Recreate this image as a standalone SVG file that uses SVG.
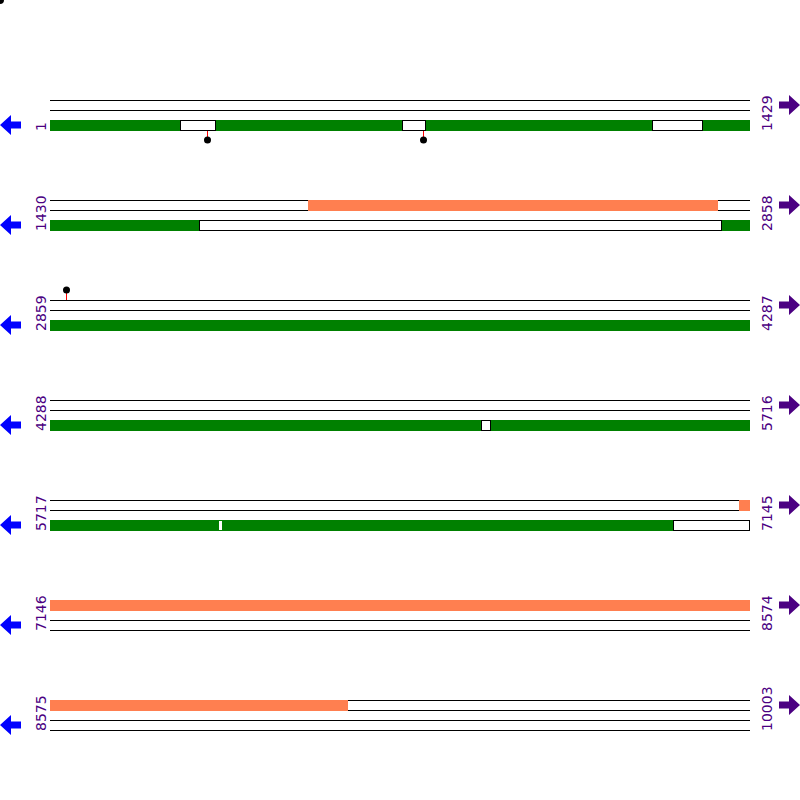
<svg xmlns="http://www.w3.org/2000/svg" width="800" height="800" viewBox="0 0 800 800">
<style>
.ln{stroke:#000;stroke-width:1;fill:none}
.g{fill:#008000}
.o{fill:#FF7F50}
.w{fill:#fff;stroke:#000;stroke-width:1}
.lab{font-family:"DejaVu Sans",sans-serif;font-size:14px;fill:#4B0082}
.la{fill:#0000FF}
.ra{fill:#4B0082}
.stem{stroke:#FF0000;stroke-width:1}
</style>
<defs>
<path id="larr" d="M0,0 L11,-10 L11,-3.5 L21,-3.5 L21,3.5 L11,3.5 L11,10 Z"/>
<path id="rarr" d="M0,0 L-11,-10 L-11,-3.5 L-21,-3.5 L-21,3.5 L-11,3.5 L-11,10 Z"/>
</defs>
<rect width="800" height="800" fill="#fff"/>
<circle cx="0" cy="0" r="4" fill="#000"/>

<g id="row1">
<line class="ln" x1="50" y1="100.5" x2="750" y2="100.5"/>
<line class="ln" x1="50" y1="110.5" x2="750" y2="110.5"/>
<rect class="g" x="50" y="120" width="700" height="11"/>
<rect class="w" x="180.5" y="120.5" width="35" height="10"/>
<rect class="w" x="402.5" y="120.5" width="23" height="10"/>
<rect class="w" x="652.5" y="120.5" width="50" height="10"/>
<line class="stem" x1="207.5" y1="131" x2="207.5" y2="140"/>
<circle cx="207.5" cy="140" r="3.5" fill="#000"/>
<line class="stem" x1="423.5" y1="131" x2="423.5" y2="140"/>
<circle cx="423.5" cy="140" r="3.5" fill="#000"/>
<text class="lab" transform="translate(46,131) rotate(-90)">1</text>
<text class="lab" transform="translate(772,131) rotate(-90)">1429</text>
<use href="#larr" class="la" x="0" y="125"/>
<use href="#rarr" class="ra" x="800" y="105"/>
</g>

<g id="row2">
<line class="ln" x1="50" y1="200.5" x2="750" y2="200.5"/>
<line class="ln" x1="50" y1="210.5" x2="750" y2="210.5"/>
<rect class="o" x="308" y="200" width="410" height="11"/>
<rect class="g" x="50" y="220" width="700" height="11"/>
<rect class="w" x="199.5" y="220.5" width="522" height="10"/>
<text class="lab" transform="translate(46,231) rotate(-90)">1430</text>
<text class="lab" transform="translate(772,231) rotate(-90)">2858</text>
<use href="#larr" class="la" x="0" y="225"/>
<use href="#rarr" class="ra" x="800" y="205"/>
</g>

<g id="row3">
<line class="ln" x1="50" y1="300.5" x2="750" y2="300.5"/>
<line class="ln" x1="50" y1="310.5" x2="750" y2="310.5"/>
<rect class="g" x="50" y="320" width="700" height="11"/>
<line class="stem" x1="66.5" y1="290" x2="66.5" y2="300"/>
<circle cx="66.5" cy="290" r="3.5" fill="#000"/>
<text class="lab" transform="translate(46,331) rotate(-90)">2859</text>
<text class="lab" transform="translate(772,331) rotate(-90)">4287</text>
<use href="#larr" class="la" x="0" y="325"/>
<use href="#rarr" class="ra" x="800" y="305"/>
</g>

<g id="row4">
<line class="ln" x1="50" y1="400.5" x2="750" y2="400.5"/>
<line class="ln" x1="50" y1="410.5" x2="750" y2="410.5"/>
<rect class="g" x="50" y="420" width="700" height="11"/>
<rect class="w" x="481.5" y="420.5" width="9" height="10"/>
<text class="lab" transform="translate(46,431) rotate(-90)">4288</text>
<text class="lab" transform="translate(772,431) rotate(-90)">5716</text>
<use href="#larr" class="la" x="0" y="425"/>
<use href="#rarr" class="ra" x="800" y="405"/>
</g>

<g id="row5">
<line class="ln" x1="50" y1="500.5" x2="750" y2="500.5"/>
<line class="ln" x1="50" y1="510.5" x2="750" y2="510.5"/>
<rect class="o" x="739" y="500" width="11" height="11"/>
<rect class="g" x="50" y="520" width="700" height="11"/>
<rect class="w" x="673.5" y="520.5" width="76" height="10"/>
<rect fill="#fff" x="219" y="521" width="3" height="9"/>
<text class="lab" transform="translate(46,531) rotate(-90)">5717</text>
<text class="lab" transform="translate(772,531) rotate(-90)">7145</text>
<use href="#larr" class="la" x="0" y="525"/>
<use href="#rarr" class="ra" x="800" y="505"/>
</g>

<g id="row6">
<rect class="o" x="50" y="600" width="700" height="11"/>
<line class="ln" x1="50" y1="620.5" x2="750" y2="620.5"/>
<line class="ln" x1="50" y1="630.5" x2="750" y2="630.5"/>
<text class="lab" transform="translate(46,631) rotate(-90)">7146</text>
<text class="lab" transform="translate(772,631) rotate(-90)">8574</text>
<use href="#larr" class="la" x="0" y="625"/>
<use href="#rarr" class="ra" x="800" y="605"/>
</g>

<g id="row7">
<line class="ln" x1="50" y1="700.5" x2="750" y2="700.5"/>
<line class="ln" x1="50" y1="710.5" x2="750" y2="710.5"/>
<rect class="o" x="50" y="700" width="298" height="11"/>
<line class="ln" x1="50" y1="720.5" x2="750" y2="720.5"/>
<line class="ln" x1="50" y1="730.5" x2="750" y2="730.5"/>
<text class="lab" transform="translate(46,731) rotate(-90)">8575</text>
<text class="lab" transform="translate(772,731) rotate(-90)">10003</text>
<use href="#larr" class="la" x="0" y="725"/>
<use href="#rarr" class="ra" x="800" y="705"/>
</g>
</svg>
